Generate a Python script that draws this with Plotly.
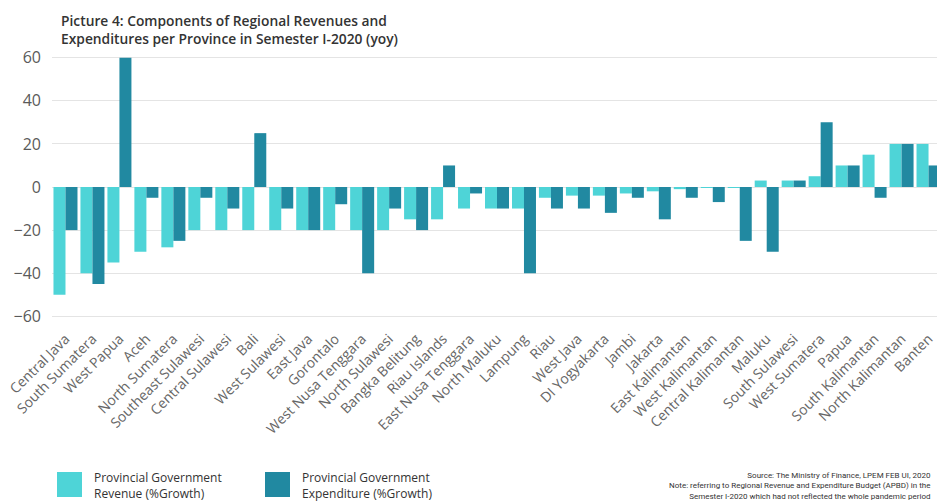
import plotly.graph_objects as go

provinces = ["Central Java", "South Sumatera", "West Papua", "Aceh", "North Sumatera",
             "Southeast Sulawesi", "Central Sulawesi", "Bali", "West Sulawesi", "East Java",
             "Gorontalo", "West Nusa Tenggara", "North Sulawesi", "Bangka Belitung",
             "Riau Islands", "East Nusa Tenggara", "North Maluku", "Lampung", "Riau",
             "West Java", "DI Yogyakarta", "Jambi", "Jakarta", "East Kalimantan",
             "West Kalimantan", "Central Kalimantan", "Maluku", "South Sulawesi",
             "West Sumatera", "Papua", "South Kalimantan", "North Kalimantan", "Banten"]

revenue = [-50, -40, -35, -30, -28, -20, -20, -20, -20, -20,
           -20, -20, -20, -15, -15, -10, -10, -10, -5, -4,
           -4, -3, -2, -1, -0.4, -0.3, 3, 3, 5, 10,
           15, 20, 20]

expenditure = [-20, -45, 60, -5, -25, -5, -10, 25, -10, -20,
               -8, -40, -10, -20, 10, -3, -10, -40, -10, -10,
               -12, -5, -15, -5, -7, -25, -30, 3, 30, 10,
               -5, 20, 10]

y_ticks = [-60, -40, -20, 0, 20, 40, 60]

rev_color = "#4ED4D7"
exp_color = "#2189A1"

W, H = 937, 502
ML, MR, MT, MB = 52, 0, 53, 181
L, R, T, B = ML, W - MR, MT, H - MB


def px_x(p):
    return (p - L) / (R - L)


def px_y(p):
    return (B - p) / (B - T)


fig = go.Figure()
fig.add_trace(go.Bar(x=provinces, y=revenue, name="Provincial Government Revenue (%Growth)",
                     marker=dict(color=rev_color, line=dict(width=0))))
fig.add_trace(go.Bar(x=provinces, y=expenditure, name="Provincial Government Expenditure (%Growth)",
                     marker=dict(color=exp_color, line=dict(width=0))))

cat_w = 26.97
fig.update_layout(
    width=W, height=H,
    margin=dict(l=ML, r=MR, t=MT, b=MB, pad=0),
    paper_bgcolor="white", plot_bgcolor="white",
    barmode="group", bargap=0.11, bargroupgap=0,
    showlegend=False,
    font=dict(family="Open Sans", color="#555555"),
    xaxis=dict(
        range=[-0.5, -0.5 + (R - L) / cat_w],
        tickangle=-45, tickfont=dict(size=14, color="#666666"),
        showgrid=False, showline=False, ticks="", zeroline=False,
        ticklabelstandoff=6,
    ),
    yaxis=dict(
        range=[-62.2, 62.2], tickvals=y_ticks,
        tickfont=dict(size=16, color="#5A5A5A"),
        showgrid=True, gridcolor="#E4E4E4", gridwidth=1,
        zeroline=True, zerolinecolor="#E4E4E4", zerolinewidth=1,
        showline=False, ticks="", ticklabelstandoff=10,
    ),
)

annotations = []
annotations.append(dict(
    text="Picture 4: Components of Regional Revenues and<br>Expenditures per Province in Semester I-2020 (yoy)",
    xref="paper", yref="paper", x=px_x(59), y=px_y(9), xanchor="left", yanchor="top",
    align="left", showarrow=False,
    font=dict(family="Open Sans", size=13.8, color="#333333", weight=600),
))

# legend
leg = [(57, rev_color, "Provincial Government<br>Revenue (%Growth)"),
       (265, exp_color, "Provincial Government<br>Expenditure (%Growth)")]
shapes = []
for x0, col, txt in leg:
    shapes.append(dict(type="rect", xref="paper", yref="paper",
                       x0=px_x(x0), x1=px_x(x0 + 25), y0=px_y(497), y1=px_y(472),
                       fillcolor=col, line=dict(width=0)))
    annotations.append(dict(text=txt, xref="paper", yref="paper",
                            x=px_x(x0 + 35), y=px_y(486), xanchor="left", yanchor="middle",
                            align="left", showarrow=False,
                            font=dict(family="Open Sans", size=12, color="#333333")))

annotations.append(dict(
    text="Source: The Ministry of Finance, LPEM FEB UI, 2020<br>"
         "Note: referring to Regional Revenue and Expenditure Budget (APBD) in the<br>"
         "Semester I-2020 which had not reflected the whole pandemic period",
    xref="paper", yref="paper", x=px_x(933), y=px_y(486), xanchor="right", yanchor="middle",
    align="right", showarrow=False,
    font=dict(family="Roboto", size=8, color="#333333"),
))

fig.update_layout(annotations=annotations, shapes=shapes)
fig.write_html("out.html")
